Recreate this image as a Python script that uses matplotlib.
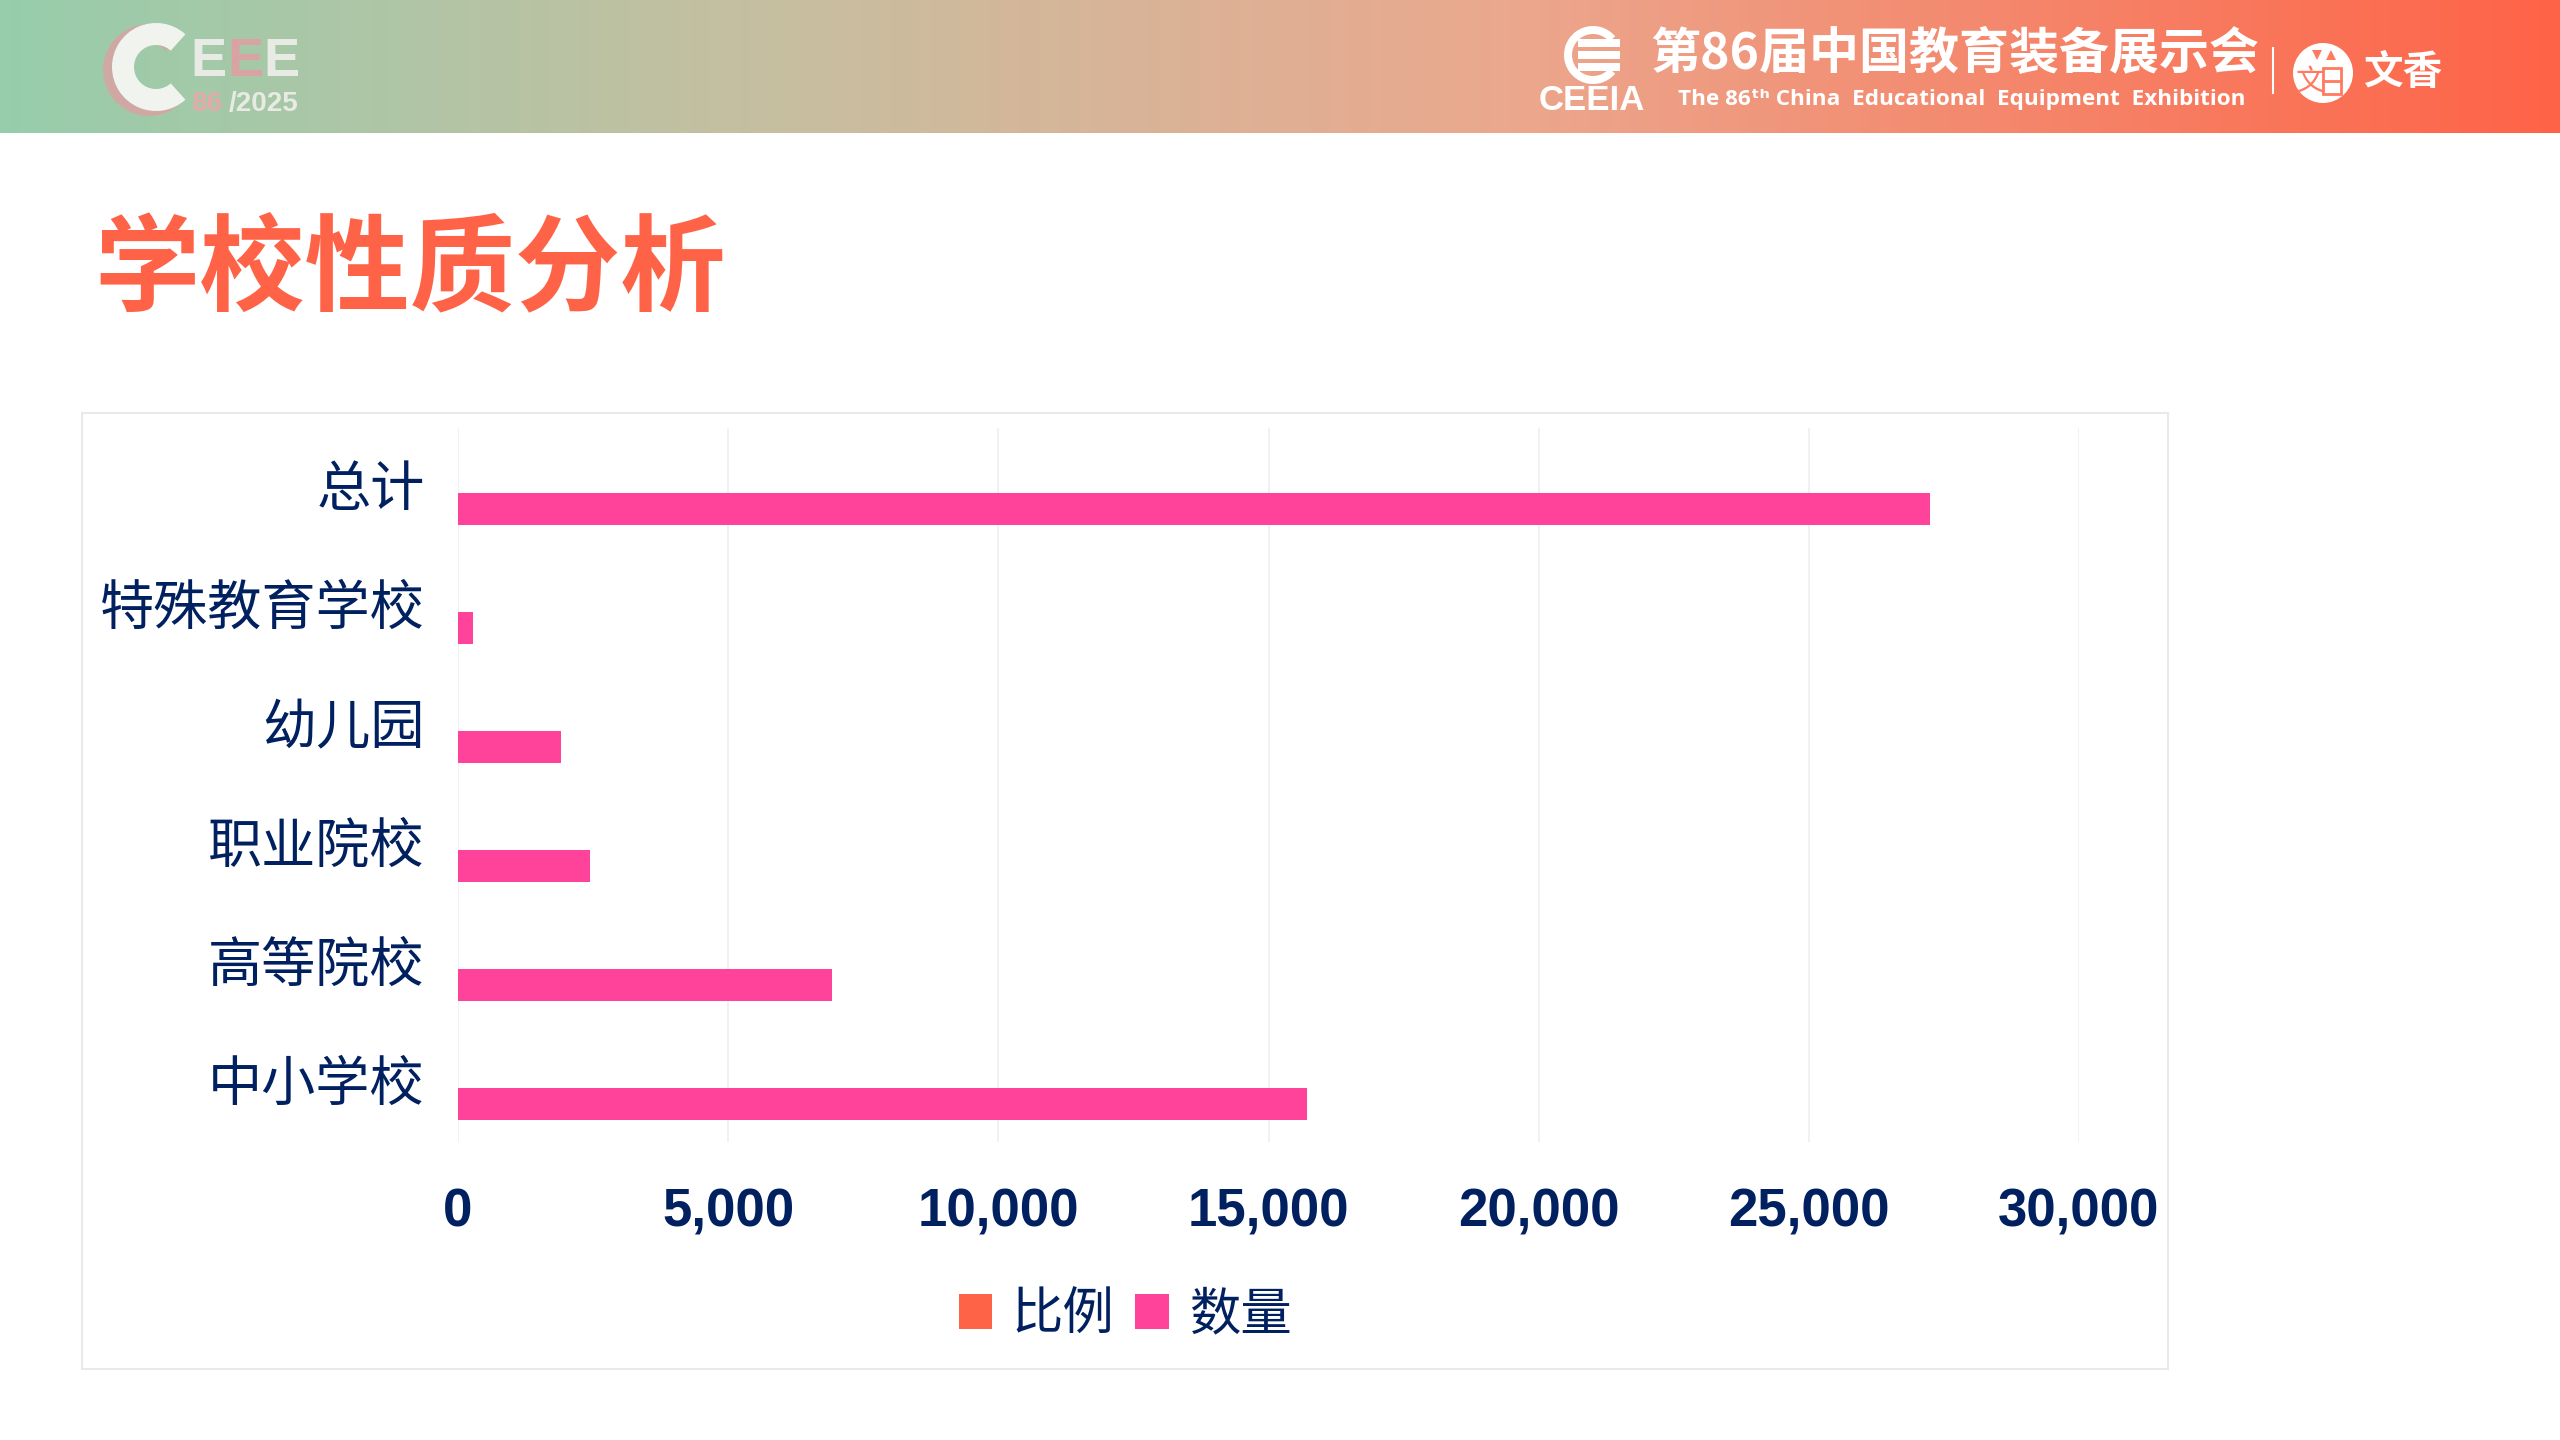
import numpy as np
import matplotlib
matplotlib.use("Agg")
import matplotlib.pyplot as plt
from matplotlib.colors import LinearSegmentedColormap
from matplotlib.patches import Circle, Polygon, Rectangle, Wedge
from matplotlib.transforms import ScaledTranslation

# 数据
categories = ["中小学校", "高等院校", "职业院校", "幼儿园", "特殊教育学校", "总计"]
counts = [15710, 6918, 2447, 1903, 272, 27250]
ratios = [0.576, 0.254, 0.090, 0.070, 0.010, 1.0]
x_ticks = [0, 5000, 10000, 15000, 20000, 25000, 30000]
series_names = ["比例", "数量"]

NAVY = "#002060"
CORAL = "#FF6347"
PINK = "#FF429A"
W, H = 2560, 1440
cjk = ["Noto Sans CJK SC", "DejaVu Sans"]

plt.rcParams["font.family"] = cjk
fig = plt.figure(figsize=(W / 100, H / 100), dpi=100, facecolor="white")

# 背景层，用像素坐标画页眉和卡片
bg = fig.add_axes([0, 0, 1, 1])
bg.set_xlim(0, W)
bg.set_ylim(H, 0)
bg.axis("off")

cmap = LinearSegmentedColormap.from_list(
    "header", [(0, "#97CDAB"), (0.31, "#C8BEA0"), (0.59, "#EBA88E"), (1, CORAL)])
bg.imshow(np.linspace(0, 1, 512).reshape(1, -1), cmap=cmap, aspect="auto",
          extent=(0, W, 133, 0), zorder=0)
bg.set_xlim(0, W)
bg.set_ylim(H, 0)

bg.add_patch(Rectangle((82, 413), 2086, 956, fc="white", ec="#E9E9E9", lw=1.5, zorder=1))

# 左上角标志
bg.add_patch(Wedge((149, 70), 46, 48, 312, width=20, fc="#D9A3A3", ec="none", alpha=0.85, zorder=2))
bg.add_patch(Wedge((156, 67), 44, 48, 312, width=22, fc="#F1F3EE", ec="none", zorder=3))
for xc, col in zip([208, 245, 281], ["#E8EBE4", "#D9A3A3", "#E8EBE4"]):
    bg.text(xc, 62, "E", color=col, fontsize=39, fontweight="bold",
            family=["Liberation Sans"], ha="center", va="center", zorder=3)
bg.text(191, 104, "86", color="#E5A9A9", fontsize=20, fontweight="bold",
        family=["Liberation Sans"], ha="left", va="center", zorder=3)
bg.text(298, 104, "/2025", color="#E8EBE4", fontsize=20, fontweight="bold",
        family=["Liberation Sans"], ha="right", va="center", zorder=3)

# 右上角标志
bg.add_patch(Wedge((1593, 55), 29, 40, 320, width=8, fc="white", ec="none", zorder=3))
for y in [43, 55, 67]:
    bg.add_patch(Rectangle((1578, y - 4), 42, 8, fc="white", ec="none", zorder=3))
bg.text(1592, 101, "CEEIA", color="white", fontsize=25, fontweight="bold",
        family=["Liberation Sans"], ha="center", va="center", zorder=3)
bg.text(1955, 54, "第86届中国教育装备展示会", color="white", fontsize=36, fontstyle="italic",
        fontweight="bold", ha="center", va="center", zorder=3)
bg.text(1962, 99, "The 86ᵗʰ China  Educational  Equipment  Exhibition", color="white",
        fontsize=16.2, fontweight="bold", family=["Open Sans", "DejaVu Sans"],
        ha="center", va="center", zorder=3)
bg.plot([2273, 2273], [48, 93], color="white", lw=1.5, zorder=3)
bg.add_patch(Circle((2323, 73), 30, fc="white", ec="none", zorder=3))
bg.text(2310, 81, "文", color="#FF7A60", fontsize=21, ha="center", va="center", zorder=4)
bg.add_patch(Rectangle((2323, 68), 18, 26, fc="none", ec="#FF7A60", lw=2, zorder=4))
bg.plot([2323, 2341], [81, 81], color="#FF7A60", lw=2, zorder=4)
bg.add_patch(Polygon([(2312, 50), (2322, 50), (2317, 60)], fc="#FF7A60", ec="none", zorder=4))
bg.add_patch(Polygon([(2326, 60), (2336, 60), (2331, 50)], fc="#FF7A60", ec="none", zorder=4))
bg.text(2403, 73, "文香", color="white", fontsize=28.5, fontweight="bold",
        ha="center", va="center", zorder=3)

# 标题
bg.text(94, 271, "学校性质分析", color=CORAL, fontsize=75.8, fontweight=900,
        ha="left", va="center", zorder=3)

# 图表
ax = fig.add_axes([458 / W, 1 - 1142 / H, (2079 - 458) / W, (1142 - 428) / H])
ax.patch.set_alpha(0)
y = np.arange(len(categories))
bar_h = 0.27
ax.barh(y + 0.18, ratios, height=bar_h, color=CORAL, label=series_names[0], zorder=3)
ax.barh(y - 0.18, counts, height=bar_h, color=PINK, label=series_names[1], zorder=3)

ax.set_xlim(0, 30000)
ax.set_ylim(-0.5, len(categories) - 0.5)
ax.set_yticks(y)
ax.set_yticklabels(categories, fontsize=39, color=NAVY, va="center")
ax.set_xticks(x_ticks)
ax.set_xticklabels([f"{v:,}" for v in x_ticks], fontsize=38, fontweight="bold",
                   color=NAVY, family=["Liberation Sans"])
ax.tick_params(axis="y", length=0, pad=24)
ax.tick_params(axis="x", length=0, pad=33)
# 标签略微下移，要放在 tick_params 之后
shift = ScaledTranslation(0, -3 / 100, fig.dpi_scale_trans)
for lab in ax.get_yticklabels():
    lab.set_transform(lab.get_transform() + shift)
ax.grid(axis="x", color="#EFEFEF", lw=1.2, zorder=0)
ax.set_axisbelow(True)
for s in ax.spines.values():
    s.set_visible(False)

fig.legend(*ax.get_legend_handles_labels(), loc="center",
           bbox_to_anchor=(1125 / W, 1 - 1315 / H), ncols=2, frameon=False,
           prop={"family": cjk, "size": 37}, labelcolor=NAVY, borderpad=0,
           handlelength=0.66, handleheight=0.66, handletextpad=0.38, columnspacing=0.4)

fig.savefig("out.png", dpi=100)
